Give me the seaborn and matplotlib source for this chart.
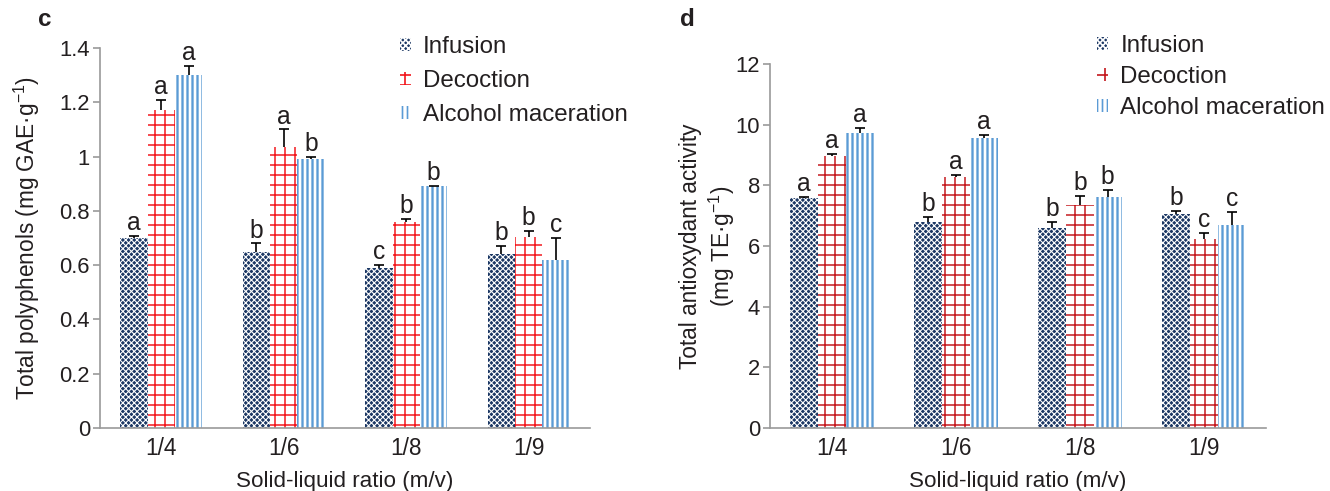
import numpy as np
import pandas as pd
import matplotlib
matplotlib.use("Agg")
import matplotlib.pyplot as plt
import seaborn as sns
from matplotlib.patches import Patch
from matplotlib.ticker import FuncFormatter

# ---------------- data ----------------
ratios = ["1/4", "1/6", "1/8", "1/9"]
methods = ["Infusion", "Decoction", "Alcohol maceration"]

# panel c : total polyphenols (mg GAE/g)
poly_infusion = [0.70, 0.65, 0.59, 0.64]
poly_decoction = [1.17, 1.035, 0.76, 0.705]
poly_alcohol = [1.30, 0.99, 0.89, 0.62]
poly_err_infusion = [0.007, 0.03, 0.012, 0.03]
poly_err_decoction = [0.04, 0.065, 0.01, 0.022]
poly_err_alcohol = [0.033, 0.008, 0.003, 0.08]
poly_letters_infusion = ["a", "b", "c", "b"]
poly_letters_decoction = ["a", "a", "b", "b"]
poly_letters_alcohol = ["a", "b", "b", "c"]

# panel d : total antioxydant activity (mg TE/g)
anti_infusion = [7.58, 6.80, 6.59, 7.05]
anti_decoction = [8.97, 8.27, 7.35, 6.22]
anti_alcohol = [9.73, 9.56, 7.60, 6.69]
anti_err_infusion = [0.04, 0.15, 0.2, 0.1]
anti_err_decoction = [0.07, 0.08, 0.3, 0.2]
anti_err_alcohol = [0.17, 0.1, 0.25, 0.43]
anti_letters_infusion = ["a", "b", "b", "b"]
anti_letters_decoction = ["a", "a", "b", "c"]
anti_letters_alcohol = ["a", "a", "b", "c"]

poly_yticks = [0, 0.2, 0.4, 0.6, 0.8, 1.0, 1.2, 1.4]
anti_yticks = [0, 2, 4, 6, 8, 10, 12]

# ---------------- style ----------------
sns.set_theme(style="white")
plt.rcParams["font.family"] = ["Liberation Sans", "DejaVu Sans"]
plt.rcParams["mathtext.fontset"] = "custom"
plt.rcParams["mathtext.rm"] = "Liberation Sans"
plt.rcParams["hatch.linewidth"] = 1.0

TEXT = "#231f20"
SPINE = "#9a9a9a"
NAVY = "#1c3864"
BLUE = "#5b9bd5"

DPI = 120
fig = plt.figure(figsize=(1330 / DPI, 491 / DPI), dpi=DPI)

W, H = 1330, 491
ax_c = fig.add_axes([100 / W, 1 - 428 / H, 490 / W, 380 / H])
ax_d = fig.add_axes([770 / W, 1 - 428 / H, 496 / W, 364 / H])


def styles(red):
    return [
        dict(fc=NAVY, hc="white", hatch="xxxxxxx", hlw=0.65),
        dict(fc="white", hc=red, hatch="++", hlw=0.9),
        dict(fc="white", hc=BLUE, hatch="||||", hlw=1.4),
    ]


def style_patch(p, st):
    p.set_facecolor(st["fc"])
    p.set_edgecolor(st["hc"])
    p.set_hatch(st["hatch"])
    p.set_linewidth(0)
    if hasattr(p, "set_hatch_linewidth"):
        p.set_hatch_linewidth(st["hlw"])


def draw(ax, vals, errs, letters, red, yticks, ylabel, leg_anchor, leg_spacing):
    df = pd.DataFrame({
        "ratio": ratios * 3,
        "method": np.repeat(methods, len(ratios)),
        "value": np.concatenate(vals),
    })
    sns.barplot(data=df, x="ratio", y="value", hue="method", order=ratios,
                hue_order=methods, errorbar=None, width=0.67, gap=0,
                dodge=True, legend=False, ax=ax)
    sts = styles(red)
    bar_conts = list(ax.containers)
    for i, cont in enumerate(bar_conts):
        xs, hs = [], []
        for bar in cont:
            style_patch(bar, sts[i])
            xs.append(bar.get_x() + bar.get_width() / 2)
            hs.append(bar.get_height())
        xs = np.array(xs)
        hs = np.array(hs)
        e = np.array(errs[i])
        eb = ax.errorbar(xs, hs, yerr=[np.zeros_like(e), e], fmt="none",
                         ecolor="black", elinewidth=1.0, capsize=3.2,
                         capthick=1.0, zorder=3)
        for cl in eb[1]:
            if np.allclose(cl.get_ydata(), hs):
                cl.set_visible(False)
        for x, h, ee, lt in zip(xs, hs, e, letters[i]):
            ax.annotate(lt, xy=(x, h + ee), xytext=(0, 0.5),
                        textcoords="offset points", ha="center", va="bottom",
                        fontsize=14.8, color=TEXT)

    ax.set_xlim(-0.5, 3.5)
    ax.set_ylim(yticks[0], yticks[-1])
    ax.set_yticks(yticks)
    ax.yaxis.set_major_formatter(FuncFormatter(lambda v, p: f"{v:g}"))
    for s in ["top", "right"]:
        ax.spines[s].set_visible(False)
    for s in ["left", "bottom"]:
        ax.spines[s].set_color(SPINE)
        ax.spines[s].set_linewidth(1.0)
    ax.tick_params(axis="y", direction="out", length=4, width=1.0,
                   color=SPINE, labelsize=13.2, pad=2, labelcolor=TEXT,
                   left=True)
    ax.tick_params(axis="x", length=0, pad=5.5, labelsize=13.6, labelcolor=TEXT)
    ax.set_xlabel("Solid-liquid ratio (m/v)", fontsize=13.4, color=TEXT,
                  labelpad=6.5)
    ax.set_ylabel(ylabel, fontsize=13.6, color=TEXT)

    handles = [Patch(facecolor=st["fc"], edgecolor=st["hc"], hatch=st["hatch"],
                     linewidth=0, label=m) for st, m in zip(sts, methods)]
    for hp, st in zip(handles, sts):
        if hasattr(hp, "set_hatch_linewidth"):
            hp.set_hatch_linewidth(st["hlw"])
    ax.legend(handles=handles, loc="upper left", bbox_to_anchor=leg_anchor,
              frameon=False, fontsize=14.5, handlelength=0.45,
              handleheight=0.45, handletextpad=0.5,
              labelspacing=leg_spacing, borderpad=0, borderaxespad=0,
              labelcolor=TEXT)


draw(ax_c,
     [poly_infusion, poly_decoction, poly_alcohol],
     [poly_err_infusion, poly_err_decoction, poly_err_alcohol],
     [poly_letters_infusion, poly_letters_decoction, poly_letters_alcohol],
     "#f2151b", poly_yticks,
     "Total polyphenols (mg GAE\u00b7g$^{\\mathregular{-1}}$)",
     (0.612, 1.032), 0.5)

draw(ax_d,
     [anti_infusion, anti_decoction, anti_alcohol],
     [anti_err_infusion, anti_err_decoction, anti_err_alcohol],
     [anti_letters_infusion, anti_letters_decoction, anti_letters_alcohol],
     "#c4161c", anti_yticks,
     "Total antioxydant activity\n(mg TE\u00b7g$^{\\mathregular{-1}}$)",
     (0.66, 1.08), 0.38)

ax_c.yaxis.set_label_coords(-0.118, 0.5)
ax_d.yaxis.set_label_coords(-0.067, 0.5)

fig.text(45 / W, 1 - 20 / H, "c", fontweight="bold", fontsize=14.5,
         ha="center", va="center", color=TEXT)
fig.text(687 / W, 1 - 19 / H, "d", fontweight="bold", fontsize=14.5,
         ha="center", va="center", color=TEXT)

fig.savefig("out.png", dpi=DPI)
